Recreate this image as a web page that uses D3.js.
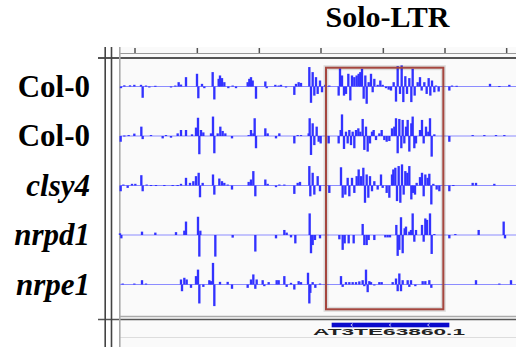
<!DOCTYPE html>
<html>
<head>
<meta charset="utf-8">
<script src="https://cdn.jsdelivr.net/npm/d3@7"></script>
<style>
  html, body { margin: 0; padding: 0; background: #fff; }
  svg { display: block; }
</style>
</head>
<body>
<div id="container"></div>
<script>
const WIDTH = 516;
const HEIGHT = 347;

// Genome window (bp, relative) and top ruler ticks
const windowStart = 9;
const windowEnd = 1200;
const rulerTicks = [57, 244, 430, 615, 802, 987, 1172];

// Highlighted solo-LTR region and the annotated TE
const highlight = [630, 982];
const gene = { name: 'AT3TE63860.1', start: 647, end: 1000, arrows: [707, 822, 937] };

const trackLabels = ['Col-0', 'Col-0', 'clsy4', 'nrpd1', 'nrpe1'];
const trackItalic = [false, false, true, true, true];

// [position (bp), signal] pairs for each track
const col0a = [[15,-7],[25,5],[42,5],[55,7],[75,7],[80,-47],[90,4],[100,-4],[118,3],[165,-4],[178,4],[188,18],[195,8],[210,39],[243,53],[247,-49],[258,11],[265,-7],[290,60],[295,-54],[308,32],[312,46],[318,35],[325,18],[337,-7],[350,4],[360,-7],[395,18],[400,32],[405,39],[410,25],[420,-51],[448,21],[452,-7],[478,7],[488,4],[495,7],[510,-4],[535,-35],[540,11],[548,18],[555,15],[580,81],[585,-68],[590,60],[595,-38],[600,39],[605,-31],[612,25],[618,-24],[628,7],[640,4],[668,-38],[672,76],[678,46],[684,-38],[690,-31],[697,53],[703,-58],[708,46],[715,39],[722,46],[728,53],[733,60],[738,74],[743,-51],[748,46],[752,-72],[758,18],[765,53],[770,-24],[775,32],[785,7],[793,25],[800,7],[810,-7],[818,-13],[825,-17],[833,18],[840,-63],[845,85],[852,-31],[857,88],[862,-65],[868,43],[873,-31],[880,35],[886,-65],[890,74],[896,-38],[905,18],[912,39],[917,-17],[925,18],[932,-31],[938,35],[943,-38],[948,25],[955,-24],[960,4],[968,-21],[1000,-17],[1008,4],[1022,3],[1122,11],[1150,2],[1180,7]];

const col0b = [[14,-24],[25,2],[38,4],[55,10],[76,39],[80,-13],[105,4],[140,-10],[150,4],[165,-7],[185,11],[195,25],[210,25],[228,7],[240,35],[246,76],[250,-76],[255,25],[262,15],[285,11],[291,81],[295,-72],[305,11],[313,39],[320,21],[328,11],[348,-10],[398,4],[405,25],[412,11],[416,74],[420,-51],[448,32],[455,11],[480,-10],[490,11],[535,-31],[545,4],[555,4],[578,11],[581,74],[585,-79],[590,53],[595,-38],[602,39],[608,-24],[614,-31],[638,-31],[668,-31],[674,25],[678,90],[684,-54],[690,18],[695,-31],[700,25],[705,-38],[710,18],[715,-51],[720,25],[727,32],[733,18],[740,71],[745,-58],[750,39],[755,-65],[762,-31],[768,18],[773,25],[780,-17],[790,11],[797,25],[805,-17],[812,-24],[820,-21],[828,32],[835,39],[840,74],[845,-72],[850,71],[856,-51],[860,67],[865,-31],[870,39],[875,67],[880,-65],[886,53],[890,81],[895,-51],[900,-31],[912,25],[918,67],[923,-31],[930,39],[937,18],[942,74],[947,-86],[955,7],[1000,-24],[1070,4],[1105,4],[1140,4],[1165,4]];

const clsy4 = [[14,-24],[22,4],[35,-10],[48,7],[58,7],[76,43],[80,-24],[92,4],[105,2],[120,2],[145,2],[170,2],[185,2],[195,7],[210,32],[222,11],[232,18],[240,39],[248,53],[252,-49],[260,11],[291,46],[295,-38],[310,29],[318,18],[325,11],[335,4],[348,-17],[398,15],[405,25],[412,60],[418,-45],[448,25],[455,7],[480,-7],[490,4],[505,4],[535,-35],[545,11],[552,15],[580,81],[583,-45],[590,53],[595,-38],[605,39],[612,-24],[640,-31],[675,76],[680,-51],[688,-38],[695,32],[700,-45],[708,32],[715,-31],[722,39],[728,67],[735,39],[742,74],[747,-72],[752,46],[757,-51],[762,39],[768,-24],[775,18],[785,-17],[795,46],[800,-10],[812,-31],[820,-51],[828,46],[832,67],[838,74],[843,-65],[848,81],[853,-72],[858,88],[863,-38],[868,60],[874,53],[880,81],[886,-58],[891,-31],[897,-38],[902,11],[912,35],[918,53],[923,-45],[928,46],[935,32],[940,49],[946,-79],[952,7],[962,-17],[970,-24],[1000,-24],[1012,2],[1070,11],[1080,11],[1135,7]];

const nrpd1 = [[12,7],[16,-14],[78,14],[118,10],[180,12],[205,18],[210,56],[246,76],[250,-90],[253,18],[298,-90],[350,-11],[418,-69],[480,-14],[505,21],[512,10],[525,-10],[538,-35],[581,90],[585,-76],[590,-42],[597,-21],[612,-14],[670,-18],[680,-62],[686,-35],[698,-35],[713,-35],[740,46],[745,-42],[752,-42],[758,-21],[775,-21],[808,-10],[815,-10],[822,-10],[841,42],[845,-87],[850,-62],[855,74],[860,-76],[866,28],[870,35],[880,14],[885,21],[890,90],[895,-28],[900,21],[918,42],[923,-28],[928,69],[933,63],[942,90],[947,-79],[955,4],[1000,-14],[1018,4],[1088,21],[1163,56],[1167,-14]];

const nrpe1 = [[20,4],[55,4],[78,18],[90,4],[195,21],[198,-28],[205,28],[212,21],[225,-14],[240,35],[246,62],[250,-79],[262,-10],[280,18],[285,14],[291,90],[295,-90],[312,11],[335,11],[348,-18],[395,-14],[405,21],[412,42],[418,-18],[422,21],[440,18],[445,-7],[458,10],[482,18],[488,18],[505,35],[512,-10],[525,7],[535,-21],[548,14],[555,10],[576,49],[580,-79],[583,-35],[590,10],[598,-14],[612,4],[675,35],[680,-10],[690,10],[700,10],[710,10],[720,10],[730,13],[740,18],[745,-7],[750,62],[755,-32],[760,14],[765,10],[775,-4],[790,10],[797,10],[830,10],[840,25],[845,-28],[850,46],[855,-28],[860,18],[875,18],[880,-10],[885,18],[898,-7],[920,14],[928,14],[940,18],[946,-14],[1080,18],[1150,4],[1185,18]];

const trackData = [col0a, col0b, clsy4, nrpd1, nrpe1];

const PLOT_LEFT = 119;
const TRACK_TOP = 62.5;
const TRACK_STEP = 49.5;
const TRACK_HEIGHT = 48;
const BIN = 7;

const svg = d3.select('#container')
  .append('svg')
  .attr('width', WIDTH)
  .attr('height', HEIGHT)
  .style('background-color', 'white');

const x = d3.scaleLinear().domain([windowStart, windowEnd]).range([PLOT_LEFT, WIDTH]);

// panel background
svg.append('rect')
  .attr('x', PLOT_LEFT)
  .attr('y', 47)
  .attr('width', WIDTH - PLOT_LEFT)
  .attr('height', HEIGHT - 47)
  .style('fill', '#fafafa');

// ruler
svg.selectAll('line.tick')
  .data(rulerTicks)
  .enter().append('line')
  .attr('x1', d => x(d))
  .attr('x2', d => x(d))
  .attr('y1', 48)
  .attr('y2', 53.5)
  .style('stroke', '#555')
  .style('stroke-width', 1.5);

svg.append('line')
  .attr('x1', PLOT_LEFT).attr('x2', WIDTH)
  .attr('y1', 53.5).attr('y2', 53.5)
  .style('stroke', '#999').style('stroke-width', 1);

svg.append('line')
  .attr('x1', 98).attr('x2', WIDTH)
  .attr('y1', 58).attr('y2', 58)
  .style('stroke', '#555').style('stroke-width', 2);

// bottom separators
svg.append('line')
  .attr('x1', PLOT_LEFT).attr('x2', WIDTH)
  .attr('y1', 316.5).attr('y2', 316.5)
  .style('stroke', '#aaa').style('stroke-width', 1.5);

svg.append('line')
  .attr('x1', 98).attr('x2', WIDTH)
  .attr('y1', 319.5).attr('y2', 319.5)
  .style('stroke', '#555').style('stroke-width', 1.5);

svg.append('line')
  .attr('x1', PLOT_LEFT).attr('x2', WIDTH)
  .attr('y1', 337.5).attr('y2', 337.5)
  .style('stroke', '#ddd').style('stroke-width', 1);

// left frame lines
[105.2, 111.5].forEach(xp => {
  svg.append('line')
    .attr('x1', xp).attr('x2', xp)
    .attr('y1', 47).attr('y2', HEIGHT)
    .style('stroke', '#444').style('stroke-width', 1.6);
});

svg.append('line')
  .attr('x1', 119.8).attr('x2', 119.8)
  .attr('y1', 47).attr('y2', HEIGHT)
  .style('stroke', '#aaa').style('stroke-width', 1.6);

// tracks
trackData.forEach((data, i) => {
  const top = TRACK_TOP + i * TRACK_STEP;
  const y = d3.scaleLinear().domain([-100, 100]).range([top + TRACK_HEIGHT, top]);
  const g = svg.append('g');

  g.append('line')
    .attr('x1', PLOT_LEFT + 1).attr('x2', WIDTH)
    .attr('y1', y(0)).attr('y2', y(0))
    .style('stroke', '#8c8cff').style('stroke-width', 1);

  g.selectAll('rect')
    .data(data)
    .enter().append('rect')
    .attr('x', d => x(d[0] - BIN / 2))
    .attr('width', x(windowStart + BIN) - x(windowStart))
    .attr('y', d => y(Math.max(0, d[1])))
    .attr('height', d => Math.max(1, Math.abs(y(d[1]) - y(0))))
    .style('fill', '#3232ff');

  svg.append('text')
    .attr('x', 90)
    .attr('y', y(0) + 10)
    .attr('text-anchor', 'end')
    .style('font-family', '"Liberation Serif", "Times New Roman", serif')
    .style('font-weight', 'bold')
    .style('font-style', trackItalic[i] ? 'italic' : 'normal')
    .style('font-size', '31px')
    .style('fill', '#000')
    .text(trackLabels[i]);
});

// highlight box
const boxTop = 67.7;
const boxBottom = 309.3;
svg.append('rect')
  .attr('x', x(highlight[0]))
  .attr('y', boxTop)
  .attr('width', x(highlight[1]) - x(highlight[0]))
  .attr('height', boxBottom - boxTop)
  .style('fill', 'none')
  .style('stroke', 'rgba(0,0,0,0.12)')
  .style('stroke-width', 5);

svg.append('rect')
  .attr('x', x(highlight[0]))
  .attr('y', boxTop)
  .attr('width', x(highlight[1]) - x(highlight[0]))
  .attr('height', boxBottom - boxTop)
  .style('fill', 'none')
  .style('stroke', '#a5463e')
  .style('stroke-width', 2);

// gene annotation
svg.append('rect')
  .attr('x', x(gene.start))
  .attr('y', 322.7)
  .attr('width', x(gene.end) - x(gene.start))
  .attr('height', 4.6)
  .style('fill', '#0a0acc');

svg.selectAll('path.arrow')
  .data(gene.arrows)
  .enter().append('path')
  .attr('d', d => `M${x(d) + 1.2},${323.6} L${x(d) - 0.8},${325} L${x(d) + 1.2},${326.4}`)
  .style('fill', 'none')
  .style('stroke', '#fff')
  .style('stroke-width', 0.7);

svg.append('text')
  .attr('x', x((gene.start + gene.end) / 2) - 1.5)
  .attr('y', 335.3)
  .attr('text-anchor', 'middle')
  .attr('textLength', 152)
  .attr('lengthAdjust', 'spacingAndGlyphs')
  .style('font-family', '"Liberation Sans", Arial, sans-serif')
  .style('font-weight', 'bold')
  .style('font-size', '9px')
  .style('fill', '#222')
  .text(gene.name);

// title
svg.append('text')
  .attr('x', 387.5)
  .attr('y', 27)
  .attr('text-anchor', 'middle')
  .style('font-family', '"Liberation Serif", "Times New Roman", serif')
  .style('font-weight', 'bold')
  .style('font-size', '30px')
  .style('fill', '#000')
  .text('Solo-LTR');
</script>
</body>
</html>
